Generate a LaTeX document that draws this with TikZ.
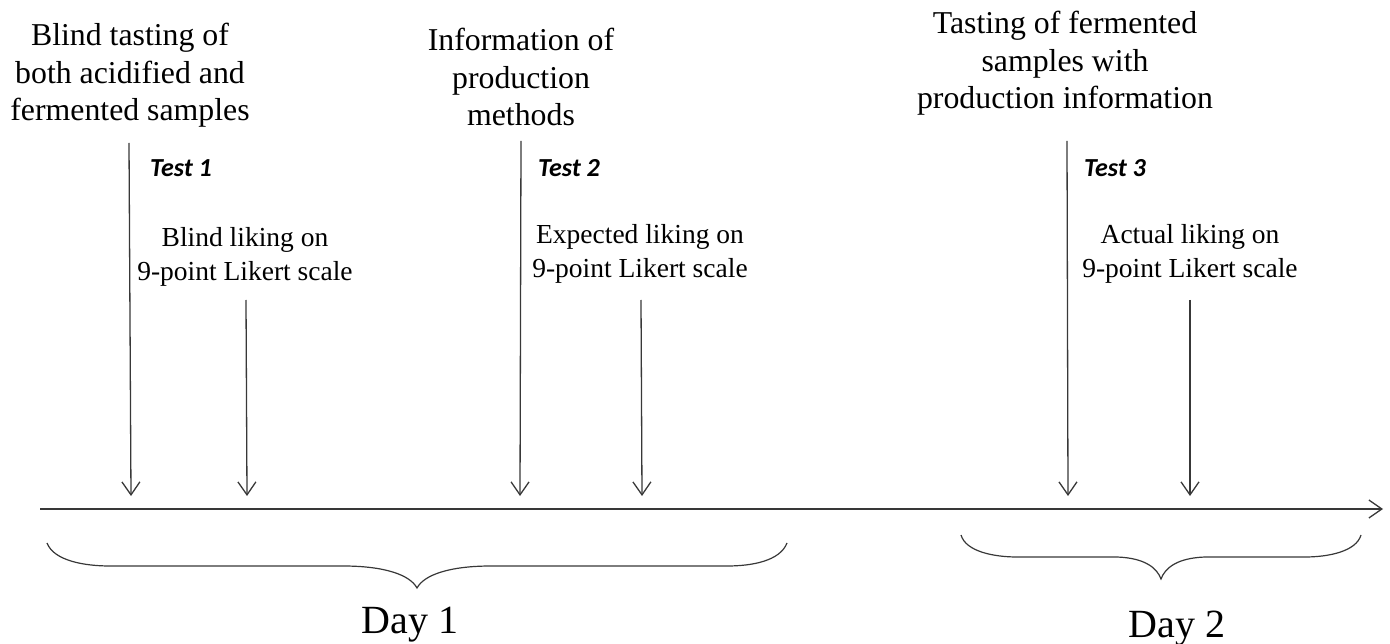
\documentclass[tikz,border=0pt]{standalone}
\usepackage{fontspec}
\setmainfont{Liberation Serif}
\newfontfamily\testfont{Carlito}
\usetikzlibrary{arrows.meta}
\tikzset{
  ln/.style={line width=1.3pt, draw=black!78},
  arr/.style={ln, -{Straight Barb[length=13pt,width=18pt,line width=1.3pt]}},
  toptxt/.style={anchor=north, align=center, inner sep=0pt, font=\fontsize{31.8}{37.5}\selectfont},
  liketxt/.style={anchor=north, align=center, inner sep=0pt, font=\fontsize{27.5}{34}\selectfont},
  testtxt/.style={anchor=base west, inner sep=0pt, font=\fontsize{26}{30}\testfont\bfseries\itshape},
  daytxt/.style={anchor=base, inner sep=0pt, font=\fontsize{40}{46}\selectfont},
}
\begin{document}
\begin{tikzpicture}[x=1pt,y=-1pt]
\useasboundingbox (0,0) rectangle (1390,644);
% top texts
\node[toptxt] (t1) at (130,23) {Blind tasting of\\both acidified and\\fermented samples};
\node[toptxt] (t2) at (521,28) {Information of\\production\\methods};
\node[toptxt] (t3) at (1065,11) {Tasting of fermented\\samples with\\production information};
% test labels
\node[testtxt] (x1) at (150,177) {Test 1};
\node[testtxt] (x2) at (538,177) {Test 2};
\node[testtxt] (x3) at (1084,177) {Test 3};
% liking texts
\node[liketxt] (l1) at (245,227) {Blind liking on\\9-point Likert scale};
\node[liketxt] (l2) at (640,224) {Expected liking on\\9-point Likert scale};
\node[liketxt] (l3) at (1190,224) {Actual liking on\\9-point Likert scale};
% arrow endpoints
\coordinate (a1s) at (129,143); \coordinate (a1e) at (131,496);
\coordinate (b1s) at (246,300); \coordinate (b1e) at (247,496);
\coordinate (a2s) at (521,141); \coordinate (a2e) at (520,496);
\coordinate (b2s) at (641,300); \coordinate (b2e) at (642,496);
\coordinate (a3s) at (1067,141); \coordinate (a3e) at (1068,496);
\coordinate (b3s) at (1190,300); \coordinate (b3e) at (1190,496);
\draw[arr] (a1s) -- (a1e);
\draw[arr] (b1s) -- (b1e);
\draw[arr] (a2s) -- (a2e);
\draw[arr] (b2s) -- (b2e);
\draw[arr] (a3s) -- (a3e);
\draw[arr] (b3s) -- (b3e);
% timeline
\coordinate (ts) at (40,509); \coordinate (te) at (1383,509);
\draw[arr] (ts) -- (te);
% braces
\draw[ln, line width=1.2pt] (47,543) .. controls (54,561) and (85,566) .. (110,566) -- (343,566)
  .. controls (385,566) and (410,575) .. (417,588)
  .. controls (424,575) and (449,566) .. (491,566) -- (727,566)
  .. controls (752,566) and (780,561) .. (787,543);
\draw[ln, line width=1.2pt] (961,535) .. controls (966,552) and (995,557) .. (1017,557) -- (1117,557)
  .. controls (1145,558) and (1157,568) .. (1161,579)
  .. controls (1165,568) and (1177,558) .. (1205,557) -- (1305,557)
  .. controls (1327,557) and (1356,552) .. (1361,535);
% day labels
\node[daytxt] (d1) at (410,633) {Day 1};
\node[daytxt] (d2) at (1177,637) {Day 2};
\end{tikzpicture}
\end{document}
